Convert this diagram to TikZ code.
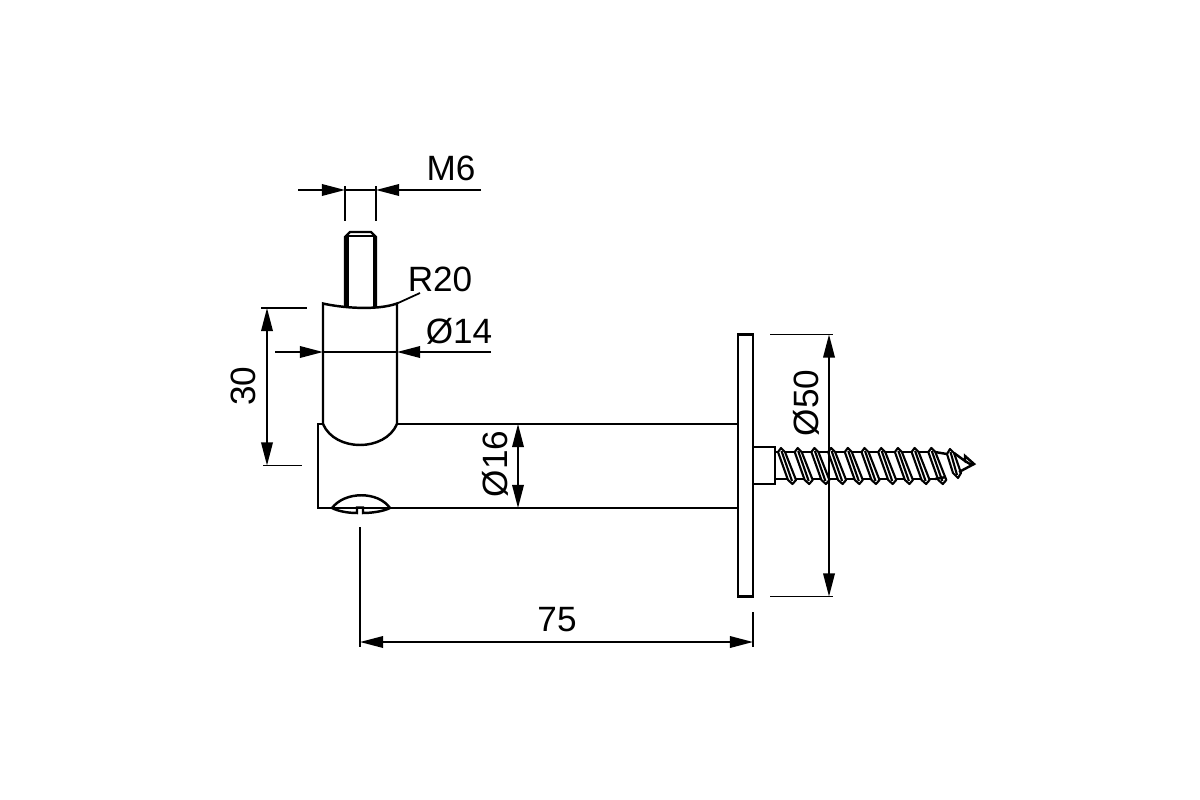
\documentclass[tikz,border=0pt]{standalone}
\usepackage{fontspec}
\setmainfont{Liberation Sans}
\usetikzlibrary{arrows.meta}
\tikzstyle{every node}=[font=\fontsize{10pt}{12pt}\selectfont,inner sep=0pt]
\tikzstyle{outline}=[line width=.7pt,black]
\tikzstyle{dimline}=[line width=.5pt,black]
\tikzstyle{threadpart}=[line width=.6pt,draw=black,fill=white,line join=round]

\begin{document}
\begin{tikzpicture}[x=.01cm,y=-.01cm,>={Triangle[length=.23cm,width=.115cm]}]
\useasboundingbox (0,0) rectangle (1200,800);
% stud
\draw[outline] (345,307) -- (345,237) -- (350,232) -- (371,232) -- (376,237) -- (376,307);
\draw[outline] (347.5,307) -- (347.5,236) -- (374,236) -- (374,307);
% post
\coordinate (R20_end) at (420,293);
\draw[outline] (323,424) -- (323,303.5) .. controls (340,307.5) and (376,311) .. (397,303.5) -- (397,424);
\draw[dimline] (397,303.5) -- (R20_end);
\draw[outline] (323,424) .. controls (335,452) and (385,452) .. (397,424);
% body
\draw[outline] (323,424) -- (318,424) -- (318,508) -- (738,508);
\draw[outline] (397,424) -- (738,424);
\draw[outline] (332,508) .. controls (345,491) and (378,491) .. (390,508);
\draw[outline] (332,508) .. controls (338,511) and (347,513) .. (357,513) -- (357,507.5) -- (363,507.5) -- (363,513) .. controls (373,513) and (384,511) .. (390,508);
% plate
\draw[outline] (738,334.5) rectangle (753,596.5);
% screw
\draw[outline] (753,447) -- (775,447) -- (775,484) -- (753,484);
\draw[outline] (775,452) -- (935,452);
\draw[outline] (775,479) -- (935,479);
\foreach \i in {0,...,9}{
  \draw[threadpart,xshift=\i*16.7*.01cm] (778,452) -- (781,448) -- (785,452) -- (796,480) -- (792.5,484) -- (788,480) -- cycle;
  \draw[threadpart,xshift=\i*16.7*.01cm] (781.5,451) -- (792,481);
}
\draw[outline] (935,452) -- (947,454);
\draw[outline] (935,479) -- (946,477);
\draw[threadpart] (947,454) -- (950,449) -- (954,453) -- (961,473) -- (958,478) -- (953,473) -- cycle;
\draw[threadpart] (950.5,452) -- (957,475);
\draw[outline] (954,453) -- (965,461) -- (965,456) -- (974,464) -- (959,472);
\draw[outline] (965,461) -- (970,464) -- (974,464);
% M6
\coordinate (M6_a1) at (345,186);
\coordinate (M6_a2) at (345,221);
\coordinate (M6_b1) at (376,186);
\coordinate (M6_b2) at (376,221);
\coordinate (M6_l) at (298,190);
\coordinate (M6_m1) at (345,190);
\coordinate (M6_m2) at (376,190);
\coordinate (M6_r) at (481,190);
\path (M6_a1) edge[dimline] (M6_a2);
\path (M6_b1) edge[dimline] (M6_b2);
\path[->] (M6_l) edge[dimline] (M6_m1);
\path[->] (M6_r) edge[dimline] (M6_m2);
\path (M6_m1) edge[dimline] (M6_m2);
\node (M6) at (451,168) {M6};
\node (R20) at (440,279) {R20};
% d14
\coordinate (d14_l) at (275,352);
\coordinate (d14_m1) at (323,352);
\coordinate (d14_m2) at (397,352);
\coordinate (d14_r) at (491,352);
\path[->] (d14_l) edge[dimline] (d14_m1);
\path[->] (d14_r) edge[dimline] (d14_m2);
\path (d14_m1) edge[dimline] (d14_m2);
\node (d14) at (459,331) {Ø14};
% 30
\coordinate (h30_a1) at (261,308);
\coordinate (h30_a2) at (307,308);
\coordinate (h30_b1) at (263,465.5);
\coordinate (h30_b2) at (302,465.5);
\coordinate (h30_t) at (267,308);
\coordinate (h30_b) at (267,465.5);
\path (h30_a1) edge[dimline] (h30_a2);
\path (h30_b1) edge[dimline] (h30_b2);
\path[<->] (h30_t) edge[dimline] (h30_b);
\node (h30) at (243,386) [rotate=90] {30};
% d16
\coordinate (d16_t) at (518,424);
\coordinate (d16_b) at (518,508);
\path[<->] (d16_t) edge[dimline] (d16_b);
\node (d16) at (495,464) [rotate=90] {Ø16};
% d50
\coordinate (d50_a1) at (770,334.5);
\coordinate (d50_a2) at (833,334.5);
\coordinate (d50_b1) at (770,596.5);
\coordinate (d50_b2) at (833,596.5);
\coordinate (d50_t) at (829,334.5);
\coordinate (d50_b) at (829,596.5);
\path (d50_a1) edge[dimline] (d50_a2);
\path (d50_b1) edge[dimline] (d50_b2);
\path[<->] (d50_t) edge[dimline] (d50_b);
\node (d50) at (806,403) [rotate=90] {Ø50};
% 75
\coordinate (w75_a1) at (360,527);
\coordinate (w75_a2) at (360,647);
\coordinate (w75_b1) at (753,612);
\coordinate (w75_b2) at (753,647);
\coordinate (w75_l) at (360,642);
\coordinate (w75_r) at (753,642);
\path (w75_a1) edge[dimline] (w75_a2);
\path (w75_b1) edge[dimline] (w75_b2);
\path[<->] (w75_l) edge[dimline] (w75_r);
\node (w75) at (557,620) {75};
\end{tikzpicture}
\end{document}
